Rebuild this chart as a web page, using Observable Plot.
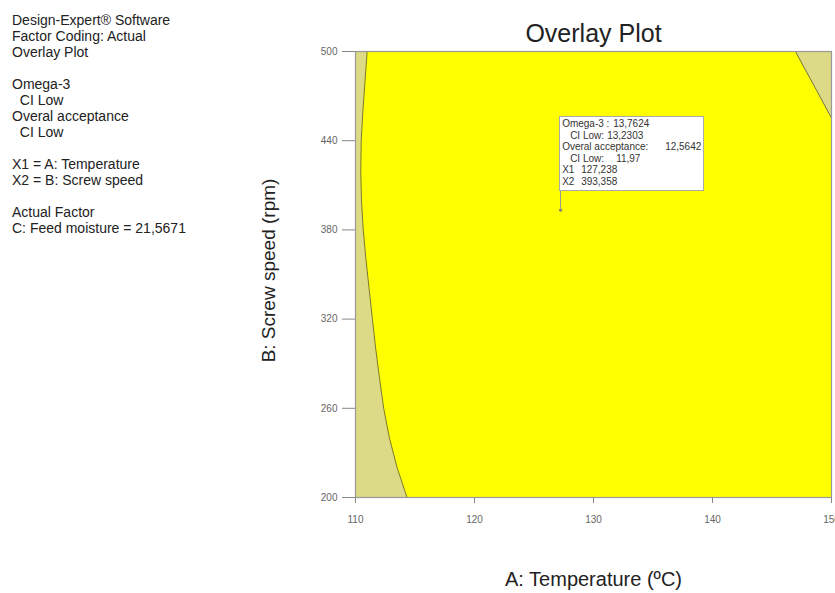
<!DOCTYPE html>
<html>
<head>
<meta charset="utf-8">
<script src="https://cdn.jsdelivr.net/npm/d3@7"></script>
<script src="https://cdn.jsdelivr.net/npm/@observablehq/plot@0.6"></script>
<style>
  body { margin: 0; background: #fff; }
  #wrap { position: relative; width: 835px; height: 593px; overflow: hidden; font-family: "Liberation Sans", Arial, sans-serif; }
  #wrap svg { position: absolute; left: 0; top: 0; }
  #panel { position: absolute; left: 12px; top: 12px; font-size: 14px; line-height: 16px; color: #222; white-space: pre; }
  #tip { position: absolute; background: #fff; border: 1px solid #aaa; box-sizing: border-box; font-size: 10px; line-height: 11.5px; color: #333; }
  #tip .ln { position: relative; height: 11.5px; white-space: pre; }
  #tip .ln span { position: absolute; top: 0; }
  #conn { position: absolute; width: 0; border-left: 1px solid #999; }
</style>
</head>
<body>
<div id="wrap"></div>
<script>
// ---- data ----
const xDomain = [110, 150];
const yDomain = [200, 500];
const xTicks = [110, 120, 130, 140, 150];
const yTicks = [200, 260, 320, 380, 440, 500];
const titleText = "Overlay Plot";
const xLabel = "A: Temperature (ºC)";
const yLabel = "B: Screw speed (rpm)";
const panelLines = [
  "Design-Expert® Software",
  "Factor Coding: Actual",
  "Overlay Plot",
  "",
  "Omega-3",
  "  CI Low",
  "Overal acceptance",
  "  CI Low",
  "",
  "X1 = A: Temperature",
  "X2 = B: Screw speed",
  "",
  "Actual Factor",
  "C: Feed moisture = 21,5671"
];
// left infeasible boundary (Temperature at given Screw speed)
const leftBoundaryY = [500, 480, 460, 440, 420, 400, 380, 360, 340, 320, 300, 280, 260, 240, 220, 200];
const leftBoundaryX = [110.98, 110.80, 110.62, 110.48, 110.44, 110.50, 110.65, 110.88, 111.15, 111.42, 111.70, 112.02, 112.37, 112.85, 113.50, 114.33];
// right infeasible corner boundary
const rightBoundaryX = [146.97, 148.5, 150];
const rightBoundaryY = [500, 477.5, 455.3];
// flagged point
const flagPoint = { x: 127.238, y: 393.358 };
const flagLabels = ["Omega-3 :", "CI Low:", "Overal acceptance:", "CI Low:", "X1", "X2"];
const flagValues = ["13,7624", "13,2303", "12,5642", "11,97", "127,238", "393,358"];

const leftBoundary = leftBoundaryY.map((y, i) => ({ x: leftBoundaryX[i], y }));
const rightBoundary = rightBoundaryX.map((x, i) => ({ x, y: rightBoundaryY[i] }));

const khaki = "#dcda86";
const olive = "#77773a";

const chart = Plot.plot({
  width: 835,
  height: 593,
  marginLeft: 355,
  marginRight: 4,
  marginTop: 51,
  marginBottom: 96,
  style: { fontFamily: "'Liberation Sans', Arial, sans-serif", background: "transparent", overflow: "visible" },
  x: { domain: xDomain },
  y: { domain: yDomain },
  marks: [
    Plot.frame({ fill: "#ffff00", stroke: null }),
    Plot.areaX(leftBoundary, { y: "y", x1: xDomain[0], x2: "x", fill: khaki }),
    Plot.lineX(leftBoundary, { x: "x", y: "y", stroke: olive, strokeWidth: 1 }),
    Plot.areaY(rightBoundary, { x: "x", y1: "y", y2: yDomain[1], fill: khaki }),
    Plot.lineY(rightBoundary, { x: "x", y: "y", stroke: olive, strokeWidth: 1 }),
    Plot.frame({ stroke: "#999", strokeWidth: 1.2 }),
    Plot.axisY({ ticks: yTicks, tickSize: 13, tickPadding: 5, fontSize: 10, color: "#666", stroke: "#888", label: null }),
    Plot.axisX({ ticks: xTicks, tickSize: 6, tickPadding: 12, fontSize: 10, color: "#666", stroke: "#888", label: null }),
    Plot.dot([flagPoint], { x: "x", y: "y", r: 1.6, fill: "#777" }),
    Plot.text([titleText], { frameAnchor: "top", lineAnchor: "middle", textAnchor: "middle", dy: -18, fontSize: 25, fill: "#222" }),
    Plot.text([xLabel], { frameAnchor: "bottom", lineAnchor: "middle", textAnchor: "middle", dy: 82, fontSize: 20, fill: "#222" }),
    Plot.text([yLabel], { frameAnchor: "left", lineAnchor: "middle", textAnchor: "middle", dx: -87, dy: -4, rotate: -90, fontSize: 19, fill: "#222" })
  ]
});

const wrap = document.getElementById("wrap");
wrap.appendChild(chart);

const panel = document.createElement("div");
panel.id = "panel";
panel.textContent = panelLines.join("\n");
wrap.appendChild(panel);

// flag box positioned through the plot's scales
const px = chart.scale("x").apply(flagPoint.x);
const py = chart.scale("y").apply(flagPoint.y);
const boxW = 145, boxH = 74.5, gap = 19;
const boxLeft = px - 1, boxTop = py - gap - boxH;

const conn = document.createElement("div");
conn.id = "conn";
conn.style.left = (px - 0.5) + "px";
conn.style.top = (py - gap) + "px";
conn.style.height = gap + "px";
wrap.appendChild(conn);

const tip = document.createElement("div");
tip.id = "tip";
tip.style.left = boxLeft + "px";
tip.style.top = boxTop + "px";
tip.style.width = boxW + "px";
tip.style.height = boxH + "px";
tip.style.paddingTop = "1px";
const labelOffsets = [3, 11, 3, 11, 3, 3];
const valueOffsets = [54, 48, 106, 57, 22, 22];
flagLabels.forEach((lab, i) => {
  const ln = document.createElement("div");
  ln.className = "ln";
  const a = document.createElement("span");
  a.style.left = (labelOffsets[i] - 1) + "px";
  a.textContent = lab;
  const b = document.createElement("span");
  b.style.left = (valueOffsets[i] - 1) + "px";
  b.textContent = flagValues[i];
  ln.appendChild(a); ln.appendChild(b);
  tip.appendChild(ln);
});
wrap.appendChild(tip);
</script>
</body>
</html>
